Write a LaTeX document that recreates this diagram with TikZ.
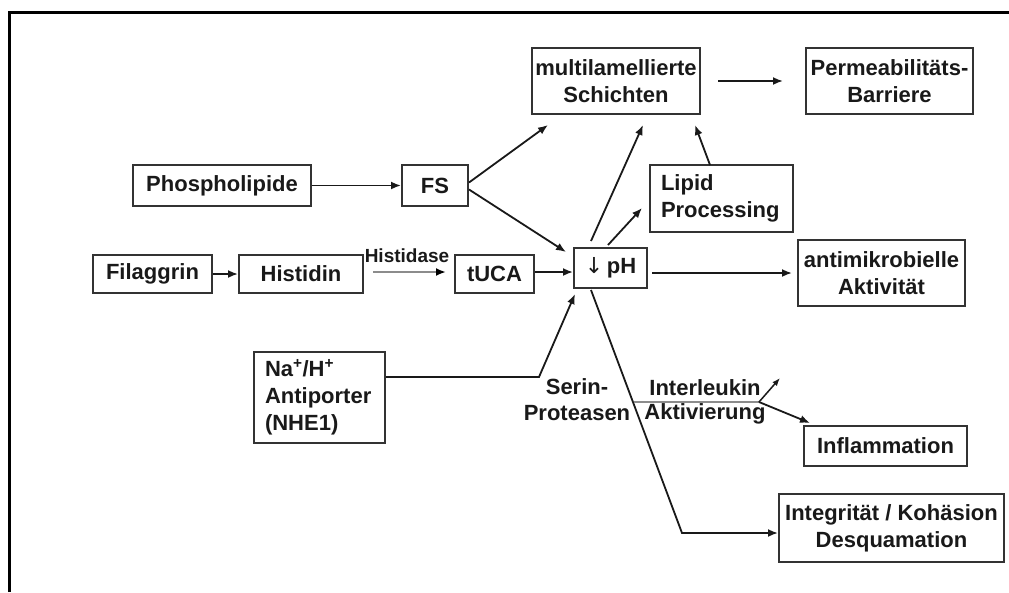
\documentclass[tikz,border=0pt]{standalone}
\usepackage{fontspec}
\setmainfont{Liberation Sans}
\newfontfamily\arrowfont{DejaVu Sans}
\usetikzlibrary{arrows.meta}
\begin{document}
\begin{tikzpicture}[x=1pt,y=-1pt,
  box/.style={draw=black!80, line width=2pt, inner sep=2pt, align=center,
    font=\fontsize{22}{27}\selectfont\bfseries, text=black!90},
  lbl/.style={inner sep=0pt, align=center, text=black!90,
    font=\fontsize{22}{26}\selectfont\bfseries},
  arr/.style={draw=black!90, line width=1.8pt, -{Latex[length=10pt,width=8pt]}},
  graylink/.style={draw=black!45, line width=2.8pt},
  grayarr/.style={graylink, -{Latex[length=10pt,width=8pt,color=black]}},
]
\useasboundingbox (0,0) rectangle (1009,592);
% partial frame
\draw[line width=3pt] (9,592) -- (9,12) -- (1009,12);

% boxes
\node[box, minimum width=168pt, minimum height=66pt] (ml) at (616,81) {multilamellierte\\Schichten};
\node[box, minimum width=167pt, minimum height=66pt] (perm) at (889.5,81) {Permeabilitäts-\\Barriere};
\node[box, minimum width=178pt, minimum height=41pt] (phos) at (222,185.5) {Phospholipide};
\node[box, minimum width=66pt, minimum height=41pt] (fs) at (435,185.5) {FS};
\node[box, align=left, text width=121pt, inner xsep=11pt, minimum height=67pt] (lipid) at (721.5,198.5) {Lipid\\Processing};
\node[box, minimum width=119pt, minimum height=38pt] (fil) at (152.5,274) {Filaggrin};
\node[box, minimum width=124pt, minimum height=38pt] (his) at (301,274) {Histidin};
\node[box, minimum width=79pt, minimum height=38pt] (tuca) at (494.5,274) {tUCA};
\node[box, minimum width=73pt, minimum height=40pt] (ph) at (610.5,268) {{\arrowfont\mdseries ↓}\,pH};
\node[box, minimum width=167pt, minimum height=66pt] (anti) at (881.5,273) {antimikrobielle\\Aktivität};
\node[box, align=left, text width=109pt, inner xsep=11pt, minimum height=91pt] (nhe) at (319.5,397.5) {Na\textsuperscript{+}/H\textsuperscript{+}\\Antiporter\\(NHE1)};
\node[box, minimum width=163pt, minimum height=40pt] (infl) at (885.5,446) {Inflammation};
\node[box, minimum width=225pt, minimum height=68pt] (integ) at (891.5,528) {Integrität / Kohäsion\\Desquamation};

% free labels
\node[lbl, font=\fontsize{19}{22}\selectfont\bfseries] (histidase) at (407,256) {Histidase};
\node[lbl] (serin) at (577,400) {Serin-\\Proteasen};
\node[lbl] (interleukin) at (705,388) {Interleukin};
\node[lbl] (aktiv) at (705,414) {Aktivierung};

% connector points
\coordinate (mlInA) at (548,125);
\coordinate (mlInB) at (643,125);
\coordinate (mlInC) at (695,125);
\coordinate (phInFS) at (566,252);
\coordinate (phOutUp) at (591,241);
\coordinate (phOutLip) at (608,245);
\coordinate (lipIn) at (642,208);
\coordinate (lipOut) at (710,165);
\coordinate (nheBend) at (539,377);
\coordinate (phInNHE) at (575,294);
\coordinate (phOutDown) at (591,290);
\coordinate (integBend) at (682,533);
\coordinate (ilStart) at (634,402);
\coordinate (ilFork) at (759,402);
\coordinate (ilUp) at (780,378);
\coordinate (inflIn) at (810,423);

% connectors
\draw[arr, shorten <=17pt, shorten >=22pt] (ml.east) -- (perm.west);
\draw[arr] (phos.east) -- (fs.west);
\draw[arr] ([yshift=3pt]fs.east) -- (mlInA);
\draw[arr] ([yshift=-4pt]fs.east) -- (phInFS);
\draw[arr] (fil.east) -- (his.west);
\draw[grayarr, shorten <=9pt, shorten >=8pt] ([yshift=2pt]his.east) -- ([yshift=2pt]tuca.west);
\draw[arr] ([yshift=2pt]tuca.east) -- ([yshift=2pt]tuca.east -| ph.west);
\draw[arr, shorten <=4pt, shorten >=5pt] (anti.west -| ph.east) -- (anti.west);
\draw[arr] (phOutUp) -- (mlInB);
\draw[arr] (phOutLip) -- (lipIn);
\draw[arr] (lipOut) -- (mlInC);
\draw[arr] (nhe.east |- nheBend) -- (nheBend) -- (phInNHE);
\draw[arr] (phOutDown) -- (integBend) -- (integ.west |- integBend);
\draw[graylink] (ilStart) -- (ilFork);
\draw[arr, line width=1.5pt, -{Latex[length=8pt,width=6pt]}] (ilFork) -- (ilUp);
\draw[arr] (ilFork) -- (inflIn);
\end{tikzpicture}
\end{document}
